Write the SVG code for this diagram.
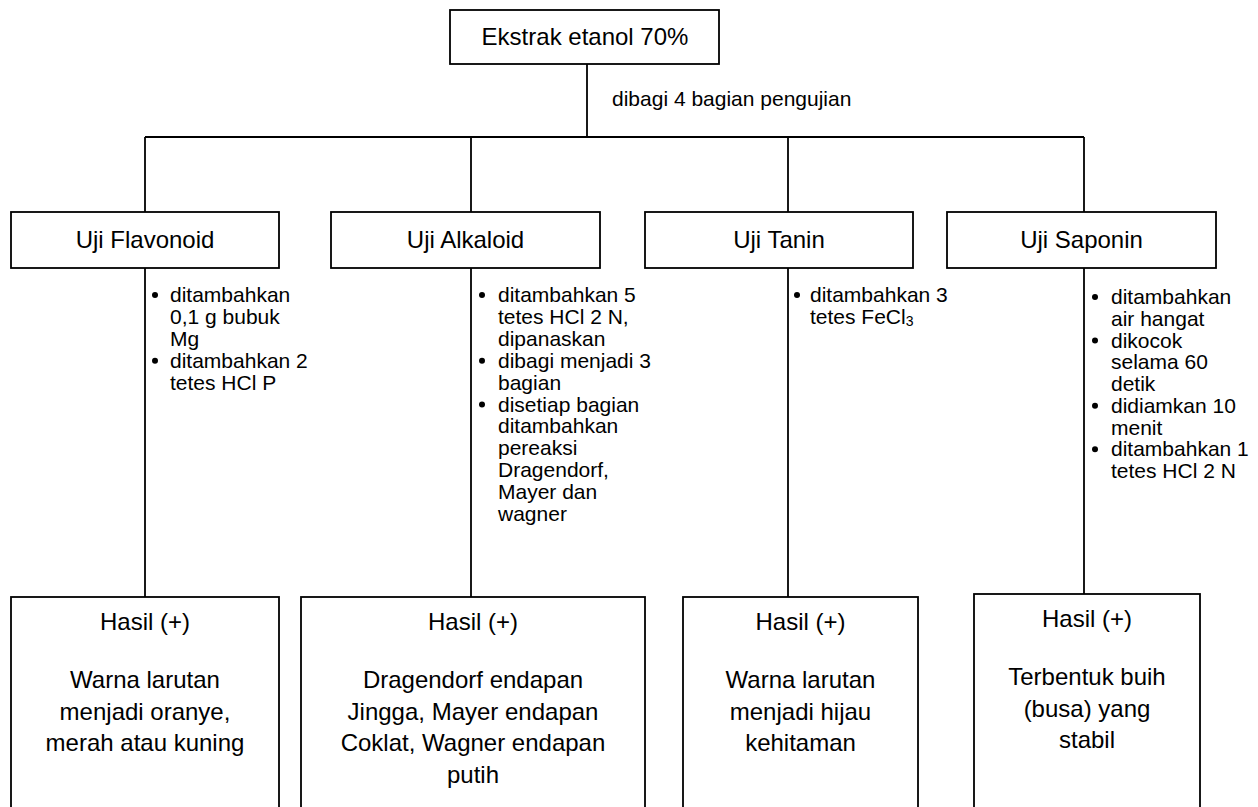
<svg xmlns="http://www.w3.org/2000/svg" width="1258" height="807" viewBox="0 0 1258 807">
  <style>
    .box { fill: #ffffff; stroke: #000000; stroke-width: 1.8; }
    .wire { fill: none; stroke: #000000; stroke-width: 1.8; }
    text { font-family: "Liberation Sans", Arial, sans-serif; fill: #000000; }
    .title { font-size: 24px; text-anchor: middle; }
    .step { font-size: 21px; }
    .note { font-size: 21px; }
    .dot { fill: #000000; }
  </style>
  <rect width="1258" height="807" fill="#ffffff"/>

  <!-- connectors -->
  <g id="connectors" class="wire">
    <line x1="587" y1="64" x2="587" y2="137"/>
    <line x1="145" y1="137" x2="1084" y2="137"/>
    <line x1="145" y1="137" x2="145" y2="212"/>
    <line x1="471" y1="137" x2="471" y2="212"/>
    <line x1="788" y1="137" x2="788" y2="212"/>
    <line x1="1084" y1="137" x2="1084" y2="212"/>
    <line x1="145" y1="268" x2="145" y2="597"/>
    <line x1="471" y1="268" x2="471" y2="597"/>
    <line x1="788" y1="268" x2="788" y2="597"/>
    <line x1="1084" y1="268" x2="1084" y2="594"/>
  </g>
  <text class="note" x="612" y="106">dibagi 4 bagian pengujian</text>

  <!-- root -->
  <g id="ekstrak">
    <rect class="box" x="450" y="10" width="269" height="54"/>
    <text class="title" x="585" y="45">Ekstrak etanol 70%</text>
  </g>

  <!-- test nodes -->
  <g id="uji-flavonoid">
    <rect class="box" x="11" y="212" width="268" height="56"/>
    <text class="title" x="145" y="248">Uji Flavonoid</text>
  </g>
  <g id="uji-alkaloid">
    <rect class="box" x="331" y="212" width="269" height="56"/>
    <text class="title" x="465.5" y="248">Uji Alkaloid</text>
  </g>
  <g id="uji-tanin">
    <rect class="box" x="645" y="212" width="268" height="56"/>
    <text class="title" x="779" y="248">Uji Tanin</text>
  </g>
  <g id="uji-saponin">
    <rect class="box" x="947" y="212" width="269" height="56"/>
    <text class="title" x="1081.5" y="248">Uji Saponin</text>
  </g>

  <!-- procedure steps -->
  <g id="langkah-flavonoid" class="step">
    <circle class="dot" cx="155" cy="295" r="3"/>
    <circle class="dot" cx="155" cy="360.7" r="3"/>
    <text x="170" y="302">ditambahkan</text>
    <text x="170" y="323.9">0,1 g bubuk</text>
    <text x="170" y="345.8">Mg</text>
    <text x="170" y="367.7">ditambahkan 2</text>
    <text x="170" y="389.6">tetes HCl P</text>
  </g>
  <g id="langkah-alkaloid" class="step">
    <circle class="dot" cx="482" cy="295" r="3"/>
    <circle class="dot" cx="482" cy="360.7" r="3"/>
    <circle class="dot" cx="482" cy="404.5" r="3"/>
    <text x="498" y="302">ditambahkan 5</text>
    <text x="498" y="323.9">tetes HCl 2 N,</text>
    <text x="498" y="345.8">dipanaskan</text>
    <text x="498" y="367.7">dibagi menjadi 3</text>
    <text x="498" y="389.6">bagian</text>
    <text x="498" y="411.5">disetiap bagian</text>
    <text x="498" y="433.4">ditambahkan</text>
    <text x="498" y="455.3">pereaksi</text>
    <text x="498" y="477.2">Dragendorf,</text>
    <text x="498" y="499.1">Mayer dan</text>
    <text x="498" y="521">wagner</text>
  </g>
  <g id="langkah-tanin" class="step">
    <circle class="dot" cx="797" cy="295" r="3"/>
    <text x="810" y="302">ditambahkan 3</text>
    <text x="810" y="323.9">tetes FeCl<tspan font-size="14" dy="2">3</tspan></text>
  </g>
  <g id="langkah-saponin" class="step">
    <circle class="dot" cx="1095" cy="297" r="3"/>
    <circle class="dot" cx="1095" cy="340.5" r="3"/>
    <circle class="dot" cx="1095" cy="405.75" r="3"/>
    <circle class="dot" cx="1095" cy="449.25" r="3"/>
    <text x="1111" y="304">ditambahkan</text>
    <text x="1111" y="325.75">air hangat</text>
    <text x="1111" y="347.5">dikocok</text>
    <text x="1111" y="369.25">selama 60</text>
    <text x="1111" y="391">detik</text>
    <text x="1111" y="412.75">didiamkan 10</text>
    <text x="1111" y="434.5">menit</text>
    <text x="1111" y="456.25">ditambahkan 1</text>
    <text x="1111" y="478">tetes HCl 2 N</text>
  </g>

  <!-- results -->
  <g id="hasil-flavonoid">
    <rect class="box" x="11" y="597" width="268" height="230"/>
    <text class="title" x="145" y="630">Hasil (+)</text>
    <text class="title" x="145" y="688">Warna larutan</text>
    <text class="title" x="145" y="719.5">menjadi oranye,</text>
    <text class="title" x="145" y="751">merah atau kuning</text>
  </g>
  <g id="hasil-alkaloid">
    <rect class="box" x="301" y="597" width="344" height="230"/>
    <text class="title" x="473" y="630">Hasil (+)</text>
    <text class="title" x="473" y="688">Dragendorf endapan</text>
    <text class="title" x="473" y="719.5">Jingga, Mayer endapan</text>
    <text class="title" x="473" y="751">Coklat, Wagner endapan</text>
    <text class="title" x="473" y="782.5">putih</text>
  </g>
  <g id="hasil-tanin">
    <rect class="box" x="683" y="597" width="235" height="230"/>
    <text class="title" x="800.5" y="630">Hasil (+)</text>
    <text class="title" x="800.5" y="688">Warna larutan</text>
    <text class="title" x="800.5" y="719.5">menjadi hijau</text>
    <text class="title" x="800.5" y="751">kehitaman</text>
  </g>
  <g id="hasil-saponin">
    <rect class="box" x="974" y="594" width="226" height="230"/>
    <text class="title" x="1087" y="627">Hasil (+)</text>
    <text class="title" x="1087" y="685">Terbentuk buih</text>
    <text class="title" x="1087" y="716.5">(busa) yang</text>
    <text class="title" x="1087" y="748">stabil</text>
  </g>
</svg>
